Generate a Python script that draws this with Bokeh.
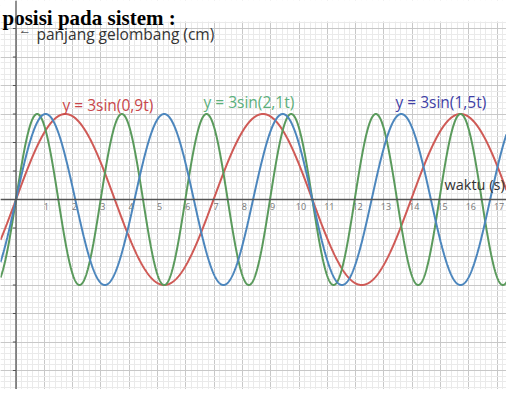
import numpy as np
from bokeh.plotting import figure
from bokeh.models import Range1d, SingleIntervalTicker, Span
from bokeh.core.properties import value
from bokeh.embed import file_html
from bokeh.resources import INLINE

# ---- data ----
amplitude = 3
omegas = [0.9, 2.1, 1.5]
curve_labels = ["y = 3sin(0,9t)", "y = 3sin(2,1t)", "y = 3sin(1,5t)"]
x_tick_vals = list(range(1, 18))
x_tick_labels = [str(v) for v in x_tick_vals]
y_tick_vals = list(range(-6, 7))
heading = "posisi pada sistem :"
y_axis_title = "panjang gelombang (cm)"
x_axis_title = "waktu (s)"

# ---- geometry (frame pixel -> data) ----
UX, OX = 28.3, 15.5
UY, OY = 28.5, 199.0
def px2x(px):
    return (px - OX) / UX
def py2y(py):
    return (OY - py) / UY

W, H = 506, 389
x0, x1 = px2x(0), px2x(W)
y1, y0 = py2y(0), py2y(H)

p = figure(width=W, height=H, output_backend="svg", toolbar_location=None,
           x_range=Range1d(x0, x1), y_range=Range1d(y0, y1),
           min_border=0, background_fill_color="white", border_fill_color="white")
p.outline_line_color = None
p.xaxis.visible = False
p.yaxis.visible = False

for g in (p.xgrid, p.ygrid):
    g.ticker = SingleIntervalTicker(interval=1, num_minor_ticks=5)
    g.grid_line_color = "#c8c8c8"
    g.grid_line_width = 1
    g.minor_grid_line_color = "#eaeaea"
    g.minor_grid_line_width = 1

# axes
p.add_layout(Span(location=0, dimension="width", line_color="#555555", line_width=1.3))
p.add_layout(Span(location=0, dimension="height", line_color="#555555", line_width=1.3))
ytv = [v for v in y_tick_vals if v != 0]
p.segment(x0=[-0.11] * len(ytv), x1=[0] * len(ytv), y0=ytv, y1=ytv,
          line_color="#555555", line_width=1)
p.text(x=[v + 0.07 for v in x_tick_vals], y=[py2y(206)] * len(x_tick_vals), text=x_tick_labels,
       text_font=value("Open Sans"), text_font_size="9px", text_color="#777777",
       text_align="center", text_baseline="middle")

# curves
colors = ["#cf5a56", "#5a9a5c", "#4c86bd"]
t = np.linspace(x0, x1, 2000)
for w, c in zip(omegas, colors):
    p.line(t, amplitude * np.sin(w * t), line_color=c, line_width=2)

# curve labels
label_colors = ["#c8464a", "#5bb07c", "#3f3fa6"]
label_pos = [(62, 104), (203, 101), (395, 101)]
for txt, c, (lx, ly) in zip(curve_labels, label_colors, label_pos):
    p.text(x=[px2x(lx)], y=[py2y(ly)], text=[txt], text_font=value("Open Sans"),
           text_font_size="15.5px", text_color=c, text_align="left", text_baseline="middle")

# heading band (white) over the top of the grid
p.quad(left=[x0], right=[x1], bottom=[py2y(21)], top=[y1],
       fill_color="white", line_color=None)
p.text(x=[px2x(2)], y=[py2y(17)], text=[heading], text_font=value("Liberation Serif"),
       text_font_style="bold", text_font_size="21px", text_color="black",
       text_baseline="alphabetic", text_align="left")

# axis titles
p.text(x=[px2x(20)], y=[py2y(32)], text=["↼"], text_font=value("DejaVu Sans"),
       text_font_size="10px", text_color="#555555", text_align="left", text_baseline="middle")
p.text(x=[px2x(36)], y=[py2y(33)], text=[y_axis_title], text_font=value("Open Sans"),
       text_font_size="15.5px", text_color="#333333", text_align="left", text_baseline="middle")
p.text(x=[px2x(444)], y=[py2y(184)], text=[x_axis_title], text_font=value("Open Sans"),
       text_font_size="14.5px", text_color="#333333", text_align="left", text_baseline="middle")

open("out.html", "w").write(file_html(p, INLINE))
